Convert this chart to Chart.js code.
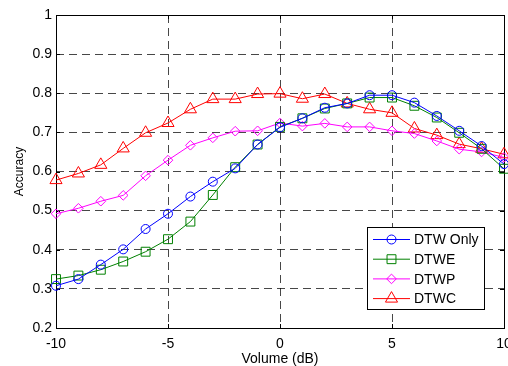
<!DOCTYPE html>
<html>
<head>
<meta charset="utf-8">
<script src="https://cdn.jsdelivr.net/npm/chart.js@4"></script>
<style>
  body { margin: 0; background: #fff; }
  canvas { display: block; }
</style>
</head>
<body>
<canvas id="chart" width="508" height="366"></canvas>
<script>
// values
const volumes = [-10, -9, -8, -7, -6, -5, -4, -3, -2, -1, 0, 1, 2, 3, 4, 5, 6, 7, 8, 9, 10];
const dtwOnly = [0.308, 0.325, 0.362, 0.401, 0.453, 0.492, 0.536, 0.574, 0.608, 0.669, 0.713, 0.736, 0.763, 0.774, 0.795, 0.795, 0.776, 0.742, 0.704, 0.665, 0.619];
const dtwE    = [0.325, 0.334, 0.349, 0.370, 0.395, 0.427, 0.472, 0.540, 0.611, 0.669, 0.714, 0.736, 0.761, 0.774, 0.789, 0.789, 0.768, 0.738, 0.699, 0.658, 0.607];
const dtwP    = [0.492, 0.506, 0.524, 0.539, 0.589, 0.629, 0.667, 0.686, 0.703, 0.704, 0.724, 0.716, 0.723, 0.714, 0.714, 0.704, 0.697, 0.678, 0.657, 0.650, 0.636];
const dtwC    = [0.578, 0.595, 0.617, 0.659, 0.699, 0.724, 0.759, 0.785, 0.785, 0.798, 0.799, 0.786, 0.798, 0.774, 0.759, 0.750, 0.710, 0.693, 0.670, 0.658, 0.644];
const seriesNames = ["DTW Only", "DTWE", "DTWP", "DTWC"];
const xTicks = [-10, -5, 0, 5, 10];

const FONT = '"Liberation Sans", Arial, sans-serif';

function pts(vals) {
    return vals.map((v, i) => ({ x: volumes[i], y: v }));
}

function series(label, vals, color, style, r) {
    return {
        label: label,
        data: pts(vals),
        borderColor: color,
        borderWidth: 1,
        backgroundColor: color,
        pointStyle: style,
        pointRadius: r,
        pointHoverRadius: r,
        pointBorderColor: color,
        pointBackgroundColor: 'rgba(0,0,0,0)',
        pointBorderWidth: 1,
        tension: 0,
        clip: false
    };
}

const datasets = [
    series(seriesNames[0], dtwOnly, '#0000ff', 'circle', 4.5),
    series(seriesNames[1], dtwE, '#008000', 'rect', 6.3),
    series(seriesNames[2], dtwP, '#ff00ff', 'rectRot', 4.8),
    series(seriesNames[3], dtwC, '#ff0000', 'triangle', 7)
];

// axes box, inward tick marks and x tick labels (the last one runs off the edge, like the original)
const boxPlugin = {
    id: 'box',
    beforeDatasetsDraw(chart) {
        const { ctx, chartArea: a, scales } = chart;
        ctx.save();
        ctx.strokeStyle = '#000';
        ctx.lineWidth = 1;
        ctx.setLineDash([]);
        ctx.beginPath();
        for (let v = 2; v <= 10; v++) {
            const y = Math.round(scales.y.getPixelForValue(v / 10)) + 0.5;
            ctx.moveTo(a.left, y); ctx.lineTo(a.left + 4, y);
            ctx.moveTo(a.right, y); ctx.lineTo(a.right - 4, y);
        }
        xTicks.forEach(v => {
            const x = Math.round(scales.x.getPixelForValue(v)) + 0.5;
            ctx.moveTo(x, a.bottom); ctx.lineTo(x, a.bottom - 4);
            ctx.moveTo(x, a.top); ctx.lineTo(x, a.top + 4);
        });
        ctx.stroke();
        ctx.strokeRect(Math.round(a.left) + 0.5, Math.round(a.top) + 0.5,
            Math.round(a.right - a.left), Math.round(a.bottom - a.top));

        ctx.fillStyle = '#000';
        ctx.font = '14px ' + FONT;
        ctx.textAlign = 'center';
        ctx.textBaseline = 'alphabetic';
        xTicks.forEach(v => {
            ctx.fillText(String(v), scales.x.getPixelForValue(v), a.bottom + 20);
        });
        ctx.restore();
    }
};

// legend box in the lower right corner
const legendPlugin = {
    id: 'boxLegend',
    afterDraw(chart) {
        const ctx = chart.ctx;
        const bx = 367, by = 227, bw = 117, bh = 82;
        ctx.save();
        ctx.fillStyle = '#fff';
        ctx.fillRect(bx, by, bw, bh);
        ctx.strokeStyle = '#000';
        ctx.lineWidth = 1;
        ctx.strokeRect(bx + 0.5, by + 0.5, bw, bh);
        ctx.font = '14px ' + FONT;
        ctx.textBaseline = 'middle';
        ctx.textAlign = 'left';
        chart.data.datasets.forEach((ds, i) => {
            const y = by + 12.5 + i * 19.7;
            ctx.strokeStyle = ds.borderColor;
            ctx.beginPath();
            ctx.moveTo(373, y); ctx.lineTo(410, y);
            ctx.stroke();
            ctx.fillStyle = 'rgba(0,0,0,0)';
            Chart.helpers.drawPoint(ctx, {
                pointStyle: ds.pointStyle,
                radius: ds.pointRadius,
                borderWidth: 1,
                rotation: 0
            }, 391.5, y);
            ctx.fillStyle = '#000';
            ctx.fillText(ds.label, 414, y + 1);
        });
        ctx.restore();
    }
};

const gridDash = { display: false, dash: [8, 5], color: '#000', width: 1 };

new Chart(document.getElementById('chart'), {
    type: 'line',
    data: { datasets },
    options: {
        responsive: false,
        devicePixelRatio: 1,
        animation: false,
        events: [],
        layout: { autoPadding: false, padding: { left: 0, right: 4, top: 15, bottom: 0 } },
        plugins: { legend: { display: false }, tooltip: { enabled: false } },
        scales: {
            x: {
                type: 'linear',
                min: -10, max: 10,
                afterBuildTicks: s => { s.ticks = xTicks.map(v => ({ value: v })); },
                afterFit: s => { s.height = 38; s.paddingLeft = 0; s.paddingRight = 0; },
                grid: { color: 'rgba(0,0,0,0.72)', lineWidth: 1, drawTicks: false },
                border: gridDash,
                ticks: { display: false },
                title: { display: true, text: 'Volume (dB)', color: '#000', padding: { top: 0, bottom: 0 }, font: { family: FONT, size: 14, lineHeight: 1 } }
            },
            y: {
                min: 0.2, max: 1,
                ticks: {
                    stepSize: 0.1, color: '#000', padding: 4, autoSkip: false,
                    font: { family: FONT, size: 14 },
                    callback: v => String(Math.round(v * 10) / 10)
                },
                afterFit: s => { s.width = 56; s.paddingTop = 0; s.paddingBottom = 0; },
                grid: { color: 'rgba(0,0,0,0.72)', lineWidth: 1, drawTicks: false },
                border: gridDash,
                title: { display: true, text: 'Accuracy', color: '#000', padding: { top: 12, bottom: 0 }, font: { family: FONT, size: 12, lineHeight: 1.2 } }
            }
        }
    },
    plugins: [boxPlugin, legendPlugin]
});
</script>
</body>
</html>
